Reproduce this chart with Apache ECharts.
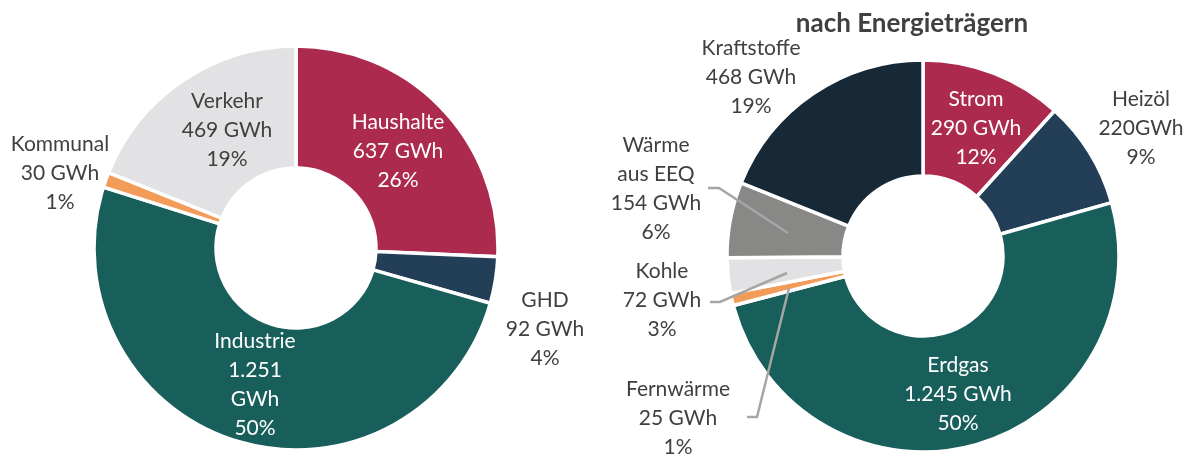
<!DOCTYPE html>
<html>
<head>
<meta charset="utf-8">
<script src="https://cdn.jsdelivr.net/npm/echarts@6/dist/echarts.min.js"></script>
<style>
  html, body { margin: 0; background: #fff; }
  #chart { width: 1187px; height: 456px; }
</style>
</head>
<body>
<div id="chart"></div>
<script>
// Sektoren (GWh)
const sektorNamen = ['Haushalte', 'GHD', 'Industrie', 'Kommunal', 'Verkehr'];
const sektorWerte = [637, 92, 1251, 30, 469];
// nach Energieträgern (GWh)
const traegerNamen = ['Strom', 'Heizöl', 'Erdgas', 'Fernwärme', 'Kohle', 'Wärme\naus EEQ', 'Kraftstoffe'];
const traegerWerte = [290, 220, 1245, 25, 72, 154, 468];

const sektorFarben = ['#ad2a4f', '#233f58', '#185e5a', '#f39c5a', '#e2e2e4'];
const traegerFarben = ['#ad2a4f', '#233f58', '#185e5a', '#f39c5a', '#e2e2e4', '#888886', '#172836'];

// Beschriftung: Trenner zwischen Zahl und Einheit, Textfarbe, Lage
const sektorTrenner = [' ', ' ', '\n', ' ', ' '];
const traegerTrenner = [' ', '', ' ', ' ', ' ', ' ', ' '];
const sektorTextFarbe = ['#fff', '#404040', '#fff', '#404040', '#404040'];
const traegerTextFarbe = ['#fff', '#404040', '#fff', '#404040', '#404040', '#404040', '#404040'];
const sektorLabelPos = [[398, 151], [545, 329], [255, 385], [60, 173], [227, 130]];
const traegerLabelPos = [[976, 128], [1141, 128], [958, 394], [678, 418], [662, 300], [656, 189], [751, 77]];
// Führungslinien (Fernwärme, Kohle, Wärme aus EEQ)
const fuehrungsLinien = [
  [[747, 417], [757, 417], [789, 288]],
  [[710, 302], [720, 302], [787, 273]],
  [[708, 188], [719, 188], [788, 233]]
];

const fmt = v => String(v).replace(/\B(?=(\d{3})+(?!\d))/g, '.');

const baueDaten = (namen, werte, farben, textFarben, innen) =>
  namen.map((name, i) => ({
    name,
    value: werte[i],
    itemStyle: { color: farben[i] },
    label: { color: textFarben[i], position: innen[i] ? 'inside' : 'outside' }
  }));

const baueSerie = (namen, werte, farben, trenner, textFarben, pos, innen, center, radius) => ({
  type: 'pie',
  center,
  radius,
  startAngle: 90,
  clockwise: true,
  avoidLabelOverlap: false,
  silent: true,
  itemStyle: { borderColor: '#fff', borderWidth: 3.5 },
  label: {
    show: true,
    fontFamily: 'Lato',
    fontSize: 21,
    lineHeight: 29,
    align: 'center',
    formatter: p => `${p.name}\n${fmt(p.value)}${trenner[p.dataIndex]}GWh\n${Math.round(p.percent)}%`
  },
  labelLine: { show: false },
  labelLayout: p => {
    const xy = pos[p.dataIndex];
    return { x: xy[0], y: xy[1], align: 'center', verticalAlign: 'middle' };
  },
  data: baueDaten(namen, werte, farben, textFarben, innen)
});

const chart = echarts.init(document.getElementById('chart'), null, { renderer: 'canvas' });
chart.setOption({
  animation: false,
  backgroundColor: '#fff',
  title: {
    text: 'nach Energieträgern',
    left: 907,
    top: 6,
    textAlign: 'center',
    textStyle: { fontFamily: 'Lato', fontWeight: 'bold', fontSize: 26, color: '#404040' }
  },
  graphic: {
    elements: fuehrungsLinien.map(pts => ({
      type: 'polyline',
      z: 100,
      silent: true,
      shape: { points: pts },
      style: { stroke: '#a6a6a6', lineWidth: 2.5, fill: null }
    }))
  },
  series: [
    baueSerie(sektorNamen, sektorWerte, sektorFarben, sektorTrenner, sektorTextFarbe,
      sektorLabelPos, [true, false, true, false, true], [296, 248], [80, 202]),
    baueSerie(traegerNamen, traegerWerte, traegerFarben, traegerTrenner, traegerTextFarbe,
      traegerLabelPos, [true, false, true, false, false, false, false], [923, 256], [80, 196])
  ]
});
</script>
</body>
</html>
